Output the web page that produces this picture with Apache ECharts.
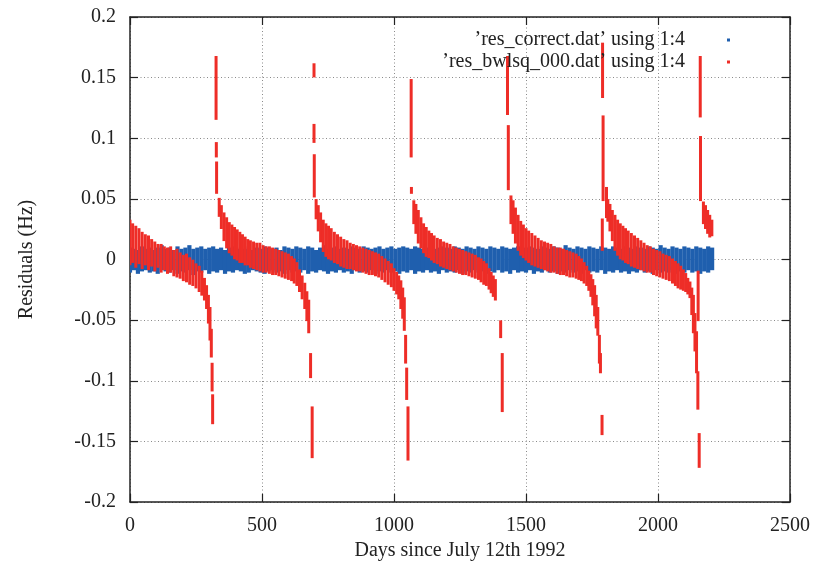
<!DOCTYPE html>
<html>
<head>
<meta charset="utf-8">
<script src="https://cdn.jsdelivr.net/npm/echarts@6/dist/echarts.min.js"></script>
<style>html,body{margin:0;padding:0;background:#fff}#c{width:819px;height:576px}</style>
</head>
<body>
<div id="c"></div>
<script>
// ---- data: [day, lowest residual, highest residual] of each observed streak ----
const seriesNames = ["\u2019res_correct.dat\u2019 using 1:4", "\u2019res_bwlsq_000.dat\u2019 using 1:4"];
const xTicks = [0, 500, 1000, 1500, 2000, 2500];
const yTicks = [-0.2, -0.15, -0.1, -0.05, 0, 0.05, 0.1, 0.15, 0.2];

const correctA = [
[0,-0.010,0.009],[15,-0.008,0.008],[30,-0.011,0.007],[45,-0.009,0.010],[60,-0.008,0.008],[75,-0.010,0.009],
[90,-0.009,0.007],[105,-0.011,0.009],[120,-0.008,0.011],[135,-0.009,0.008],[150,-0.010,0.009],[165,-0.008,0.007],
[180,-0.011,0.010],[195,-0.009,0.008],[210,-0.010,0.009],[225,-0.008,0.011],[240,-0.012,0.008],[255,-0.009,0.009],
[270,-0.010,0.010],[285,-0.008,0.008],[300,-0.011,0.009],[315,-0.009,0.010],[330,-0.010,0.008],[345,-0.008,0.009],
[360,-0.011,0.007],[375,-0.009,0.009],[390,-0.010,0.010],[405,-0.008,0.008],[420,-0.009,0.009],[435,-0.011,0.008],
[450,-0.010,0.010],[465,-0.008,0.007],[480,-0.009,0.009],[495,-0.010,0.008],[510,-0.011,0.010],[525,-0.009,0.009],
[540,-0.008,0.008],[555,-0.010,0.009],[570,-0.009,0.007],[585,-0.011,0.010],[600,-0.008,0.009],[615,-0.010,0.008],
[630,-0.009,0.010],[645,-0.010,0.009],[660,-0.008,0.008],[675,-0.011,0.010],[690,-0.009,0.009],[705,-0.010,0.007],
[720,-0.008,0.009],[735,-0.009,0.011],[750,-0.011,0.008],[765,-0.009,0.009],[780,-0.010,0.010],[795,-0.008,0.008],
[810,-0.010,0.009],[825,-0.009,0.008],[840,-0.011,0.010],[855,-0.008,0.009],[870,-0.010,0.008],[885,-0.009,0.010],
[900,-0.010,0.009],[915,-0.008,0.008],[930,-0.011,0.009],[945,-0.009,0.010],[960,-0.010,0.008],[975,-0.008,0.009],
[990,-0.010,0.010],[1005,-0.009,0.008],[1020,-0.011,0.009],[1035,-0.009,0.010],[1050,-0.010,0.009],[1065,-0.008,0.008]
];
const correctB = [
[1080,-0.011,0.010],[1095,-0.009,0.009],[1110,-0.010,0.008],[1125,-0.008,0.009],[1140,-0.010,0.010],[1155,-0.009,0.008],
[1170,-0.011,0.009],[1185,-0.008,0.010],[1200,-0.010,0.009],[1215,-0.009,0.008],[1230,-0.010,0.010],[1245,-0.008,0.009],
[1260,-0.011,0.008],[1275,-0.009,0.010],[1290,-0.010,0.009],[1305,-0.008,0.008],[1320,-0.010,0.010],[1335,-0.009,0.009],
[1350,-0.011,0.008],[1365,-0.009,0.010],[1380,-0.010,0.009],[1395,-0.008,0.008],[1410,-0.010,0.010],[1425,-0.009,0.009],
[1440,-0.011,0.008],[1455,-0.008,0.009],[1470,-0.010,0.010],[1485,-0.009,0.008],[1500,-0.010,0.009],[1515,-0.008,0.010],
[1530,-0.011,0.009],[1545,-0.009,0.008],[1560,-0.010,0.010],[1575,-0.008,0.009],[1590,-0.010,0.008],[1605,-0.009,0.010],
[1620,-0.011,0.009],[1635,-0.009,0.008],[1650,-0.010,0.011],[1665,-0.008,0.009],[1680,-0.010,0.008],[1695,-0.009,0.010],
[1710,-0.011,0.009],[1725,-0.008,0.008],[1740,-0.010,0.010],[1755,-0.009,0.009],[1770,-0.010,0.008],[1785,-0.008,0.010],
[1800,-0.011,0.009],[1815,-0.009,0.008],[1830,-0.010,0.010],[1845,-0.008,0.009],[1860,-0.010,0.008],[1875,-0.009,0.010],
[1890,-0.011,0.009],[1905,-0.009,0.008],[1920,-0.010,0.010],[1935,-0.008,0.009],[1950,-0.010,0.008],[1965,-0.009,0.010],
[1980,-0.011,0.009],[1995,-0.008,0.008],[2010,-0.010,0.011],[2025,-0.009,0.009],[2040,-0.010,0.008],[2055,-0.008,0.010],
[2070,-0.011,0.009],[2085,-0.009,0.008],[2100,-0.010,0.010],[2115,-0.008,0.009],[2130,-0.010,0.008],[2145,-0.009,0.010],
[2160,-0.011,0.009],[2175,-0.009,0.008],[2190,-0.010,0.010],[2205,-0.008,0.009]
];

const bwlsqCycle1 = [
[0,-0.004,0.032],[10,-0.002,0.029],[22,-0.006,0.027],[34,-0.003,0.025],[46,-0.007,0.022],[58,-0.004,0.020],
[70,-0.008,0.019],[82,-0.005,0.016],[94,-0.009,0.014],[106,-0.006,0.012],[118,-0.010,0.012],[130,-0.008,0.010],
[142,-0.011,0.009],[154,-0.010,0.010],[166,-0.013,0.007],[178,-0.014,0.008],[190,-0.015,0.005],[202,-0.017,0.003],
[214,-0.018,0.004],[226,-0.020,0.001],[238,-0.021,-0.001],[250,-0.023,-0.004],[262,-0.026,-0.006],[272,-0.029,-0.010],
[282,-0.033,-0.016],[290,-0.040,-0.022],[297,-0.052,-0.030],[303,-0.066,-0.040],[308,-0.080,-0.058],
[311,-0.108,-0.086],[313,-0.135,-0.112],
[326,0.116,0.167],[327,0.085,0.096],[328,0.055,0.080]
];
const bwlsqCycle2 = [
[338,0.036,0.050],[346,0.026,0.044],[356,0.016,0.038],[366,0.010,0.034],[376,0.006,0.030],[386,0.004,0.028],
[396,0.001,0.026],[406,0.000,0.024],[416,-0.002,0.022],[426,-0.002,0.020],[436,-0.004,0.018],[446,-0.004,0.016],
[456,-0.006,0.015],[468,-0.007,0.014],[480,-0.008,0.013],[492,-0.009,0.013],[504,-0.010,0.011],[516,-0.010,0.010],
[528,-0.011,0.010],[540,-0.012,0.009],[552,-0.012,0.008],[564,-0.013,0.007],[576,-0.014,0.006],[588,-0.015,0.005],
[600,-0.016,0.004],[612,-0.017,0.002],[622,-0.019,0.000],[632,-0.021,-0.003],[642,-0.026,-0.009],[652,-0.032,-0.014],
[662,-0.040,-0.020],[670,-0.050,-0.027],[677,-0.060,-0.034],
[684,-0.097,-0.078],[690,-0.163,-0.122],
[697,0.151,0.161],[697,0.097,0.111],[698,0.052,0.086]
];
const bwlsqCycle3 = [
[705,0.034,0.049],[713,0.024,0.044],[722,0.015,0.038],[732,0.007,0.032],[742,0.003,0.029],[752,0.001,0.027],
[762,0.000,0.025],[774,-0.002,0.022],[786,-0.003,0.020],[798,-0.005,0.018],[810,-0.006,0.016],[822,-0.007,0.015],
[834,-0.007,0.013],[846,-0.008,0.012],[858,-0.009,0.011],[870,-0.009,0.010],[882,-0.010,0.009],[894,-0.011,0.008],
[906,-0.012,0.007],[918,-0.012,0.006],[930,-0.013,0.005],[942,-0.014,0.004],[954,-0.016,0.002],[966,-0.018,0.000],
[978,-0.020,-0.002],[990,-0.022,-0.004],[1000,-0.025,-0.008],[1010,-0.028,-0.011],[1018,-0.032,-0.014],
[1026,-0.040,-0.018],[1033,-0.048,-0.024],[1039,-0.058,-0.032],
[1044,-0.085,-0.063],[1048,-0.115,-0.090],[1053,-0.165,-0.122],
[1065,0.085,0.148],[1066,0.055,0.059]
];
const bwlsqCycle4 = [
[1075,0.030,0.048],[1083,0.022,0.045],[1092,0.014,0.040],[1102,0.010,0.034],[1112,0.006,0.029],[1122,0.003,0.026],
[1132,0.002,0.023],[1142,0.000,0.021],[1152,-0.002,0.019],[1164,-0.003,0.017],[1176,-0.005,0.016],[1188,-0.006,0.014],
[1200,-0.007,0.013],[1212,-0.008,0.012],[1224,-0.009,0.010],[1236,-0.010,0.009],[1248,-0.011,0.008],[1260,-0.012,0.007],
[1272,-0.012,0.006],[1284,-0.013,0.005],[1296,-0.014,0.004],[1308,-0.015,0.003],[1320,-0.016,0.001],[1330,-0.018,0.000],
[1340,-0.020,-0.002],[1350,-0.021,-0.004],[1360,-0.024,-0.008],[1368,-0.027,-0.011],[1376,-0.030,-0.014],[1384,-0.033,-0.017],
[1404,-0.064,-0.051],[1410,-0.125,-0.078],
[1430,0.120,0.167],[1433,0.058,0.110]
];
const bwlsqCycle5 = [
[1443,0.030,0.052],[1451,0.022,0.048],[1460,0.014,0.042],[1470,0.008,0.036],[1480,0.004,0.031],[1490,0.002,0.028],
[1500,0.000,0.025],[1510,-0.002,0.023],[1522,-0.004,0.021],[1534,-0.005,0.019],[1546,-0.006,0.017],[1558,-0.007,0.015],
[1570,-0.008,0.014],[1582,-0.009,0.013],[1594,-0.010,0.012],[1606,-0.010,0.010],[1618,-0.011,0.009],[1630,-0.012,0.009],
[1642,-0.012,0.008],[1654,-0.013,0.007],[1666,-0.014,0.006],[1678,-0.014,0.005],[1690,-0.015,0.004],[1700,-0.016,0.002],
[1710,-0.017,0.000],[1720,-0.019,-0.003],[1730,-0.021,-0.006],[1738,-0.025,-0.010],[1746,-0.030,-0.013],[1753,-0.037,-0.017],
[1760,-0.046,-0.022],[1766,-0.056,-0.030],[1772,-0.062,-0.040],
[1778,-0.085,-0.063],[1782,-0.093,-0.078],[1788,-0.144,-0.129],
[1789,0.008,0.033],[1790,0.134,0.178],[1792,0.049,0.118],[1805,0.035,0.059]
];
const bwlsqCycle6 = [
[1810,0.032,0.049],[1818,0.024,0.045],[1827,0.016,0.040],[1837,0.008,0.036],[1847,0.004,0.032],[1857,0.001,0.029],
[1867,0.000,0.027],[1877,-0.002,0.025],[1887,-0.003,0.023],[1899,-0.005,0.021],[1911,-0.006,0.019],[1923,-0.007,0.017],
[1935,-0.008,0.015],[1947,-0.009,0.013],[1959,-0.010,0.011],[1971,-0.010,0.010],[1983,-0.012,0.008],[1995,-0.013,0.007],
[2007,-0.014,0.006],[2019,-0.015,0.004],[2031,-0.016,0.003],[2043,-0.017,0.002],[2055,-0.019,0.000],[2066,-0.021,-0.002],
[2076,-0.023,-0.004],[2086,-0.024,-0.006],[2096,-0.025,-0.009],[2105,-0.026,-0.012],[2113,-0.028,-0.016],[2121,-0.031,-0.019],
[2128,-0.045,-0.024],[2134,-0.060,-0.030],[2140,-0.075,-0.045],[2146,-0.093,-0.060],[2151,-0.123,-0.093],
[2152,-0.050,-0.010],[2156,-0.171,-0.144],
[2160,0.118,0.167],[2161,0.049,0.101],
[2172,0.030,0.047],[2180,0.026,0.044],[2188,0.022,0.040],[2196,0.019,0.036],[2204,0.020,0.032]
];

// ---- chart ----
const correctData = correctA.concat(correctB);
const bwlsqData = [].concat(bwlsqCycle1, bwlsqCycle2, bwlsqCycle3, bwlsqCycle4, bwlsqCycle5, bwlsqCycle6);

const SERIF = '"Liberation Serif","DejaVu Serif",serif';
const FRAME = '#222';

function streak(w) {
  return function (params, api) {
    const x = api.value(0), lo = api.value(1), hi = api.value(2);
    const a = api.coord([x, hi]);
    const b = api.coord([x, lo]);
    return {
      type: 'rect',
      shape: { x: a[0] - w / 2, y: a[1] - 1, width: w, height: (b[1] - a[1]) + 2 },
      style: api.style()
    };
  };
}

function yFmt(v) {
  if (Math.abs(v) < 1e-9) return '0';
  return String(parseFloat(v.toFixed(2)));
}
function xFmt(v) { return String(Math.round(v)); }

const chart = echarts.init(document.getElementById('c'), null, { renderer: 'canvas' });
const commonAxisLine = { show: true, onZero: false, lineStyle: { color: FRAME, width: 1.5 } };
const commonTick = { show: true, inside: true, length: 8, lineStyle: { color: FRAME, width: 1.2 } };

chart.setOption({
  animation: false,
  backgroundColor: '#fff',
  grid: { left: 130, right: 29, top: 17, bottom: 74, containLabel: false },
  legend: [
    {
      data: [seriesNames[0]], right: 84, top: 25, align: 'right', orient: 'vertical',
      itemWidth: 3, itemHeight: 3, icon: 'rect', selectedMode: false,
      textStyle: { fontFamily: SERIF, fontSize: 20, color: '#222', padding: [0, 37, 0, 0] }
    },
    {
      data: [seriesNames[1]], right: 84, top: 47, align: 'right', orient: 'vertical',
      itemWidth: 3, itemHeight: 3, icon: 'rect', selectedMode: false,
      textStyle: { fontFamily: SERIF, fontSize: 20, color: '#222', padding: [0, 37, 0, 0] }
    }
  ],
  xAxis: [
    {
      type: 'value', position: 'bottom', min: xTicks[0], max: xTicks[xTicks.length - 1], interval: 500,
      name: 'Days since July 12th 1992', nameLocation: 'middle', nameGap: 38,
      nameTextStyle: { fontFamily: SERIF, fontSize: 20, color: '#222' },
      axisLine: commonAxisLine, axisTick: commonTick,
      axisLabel: { fontFamily: SERIF, fontSize: 20, color: '#222', margin: 14, formatter: xFmt },
      splitLine: { show: true, lineStyle: { color: '#8a8a8a', width: 1, type: [1, 2.5] } }
    },
    {
      type: 'value', position: 'top', min: xTicks[0], max: xTicks[xTicks.length - 1], interval: 500,
      axisLine: commonAxisLine, axisTick: commonTick, axisLabel: { show: false }, splitLine: { show: false }
    }
  ],
  yAxis: [
    {
      type: 'value', position: 'left', min: yTicks[0], max: yTicks[yTicks.length - 1], interval: 0.05,
      name: 'Residuals (Hz)', nameLocation: 'middle', nameGap: 93, nameRotate: 90,
      nameTextStyle: { fontFamily: SERIF, fontSize: 20, color: '#222' },
      axisLine: commonAxisLine, axisTick: commonTick,
      axisLabel: { fontFamily: SERIF, fontSize: 20, color: '#222', margin: 14, formatter: yFmt },
      splitLine: { show: true, lineStyle: { color: '#8a8a8a', width: 1, type: [1, 2.5] } }
    },
    {
      type: 'value', position: 'right', min: yTicks[0], max: yTicks[yTicks.length - 1], interval: 0.05,
      axisLine: commonAxisLine, axisTick: commonTick, axisLabel: { show: false }, splitLine: { show: false }
    }
  ],
  series: [
    {
      name: seriesNames[0], type: 'custom', xAxisIndex: 0, yAxisIndex: 0, clip: true,
      itemStyle: { color: '#1f5fae' },
      encode: { x: 0, y: [1, 2] },
      renderItem: streak(4.2),
      data: correctData
    },
    {
      name: seriesNames[1], type: 'custom', xAxisIndex: 0, yAxisIndex: 0, clip: true,
      itemStyle: { color: '#ee2d27' },
      encode: { x: 0, y: [1, 2] },
      renderItem: streak(3.0),
      data: bwlsqData
    }
  ]
});
</script>
</body>
</html>
